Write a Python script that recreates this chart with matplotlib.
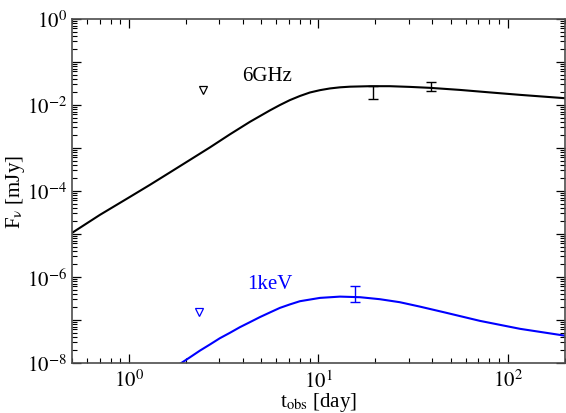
import numpy as np
import matplotlib
matplotlib.use("Agg")
import matplotlib.pyplot as plt
from matplotlib.ticker import LogLocator, FuncFormatter, NullFormatter

# model light curves
t_radio = [0.500, 0.703, 1.012, 1.29, 1.646, 2.10, 2.68, 3.41, 4.35, 5.55, 6.26,
           7.07, 7.99, 9.02, 10.2, 11.5, 13.0, 14.7, 18.7, 23.8, 30.4, 38.8,
           55.8, 80.4, 116, 200]
f_radio = [1.05e-5, 2.77e-5, 7.24e-5, 1.38e-4, 2.69e-4, 5.26e-4, 1.03e-3, 2.06e-3,
           4.03e-3, 7.45e-3, 9.9e-3, 1.29e-2, 1.61e-2, 1.94e-2, 2.20e-2, 2.41e-2,
           2.56e-2, 2.65e-2, 2.72e-2, 2.72e-2, 2.62e-2, 2.49e-2, 2.23e-2, 1.95e-2,
           1.71e-2, 1.43e-2]

t_xray = [1.86, 2.10, 2.37, 2.68, 3.02, 3.41, 3.85, 4.35, 4.91, 5.55, 6.26, 7.07,
          7.99, 10.2, 13.0, 16.6, 21.1, 26.9, 34.3, 46.5, 71.2, 116, 200]
f_xray = [9.5e-9, 1.35e-8, 1.93e-8, 2.69e-8, 3.75e-8, 5.0e-8, 6.76e-8, 8.85e-8,
          1.16e-7, 1.49e-7, 1.90e-7, 2.29e-7, 2.72e-7, 3.25e-7, 3.48e-7, 3.37e-7,
          3.03e-7, 2.58e-7, 2.04e-7, 1.49e-7, 9.5e-8, 6.2e-8, 4.3e-8]

# detections (center, lower, upper)
t_radio_det = [19.5, 39.3]
f_radio_det = [0.0194, 0.0266]
f_radio_lo = [0.0138, 0.0209]
f_radio_hi = [0.0272, 0.0339]

t_xray_det = [15.6]
f_xray_det = [4.0e-7]
f_xray_lo = [2.58e-7]
f_xray_hi = [6.3e-7]

# upper limits
t_radio_ul = [2.47]
f_radio_ul = [0.0224]
t_xray_ul = [2.35]
f_xray_ul = [1.5e-7]

plt.rcParams["font.family"] = ["Liberation Serif", "DejaVu Serif"]
plt.rcParams["mathtext.fontset"] = "stix"

fig = plt.figure(figsize=(5.66, 4.14), dpi=100)
ax = fig.add_axes([0.127, 0.121, 0.871, 0.831])

ax.plot(t_radio, f_radio, color="black", lw=1.5)
ax.plot(t_xray, f_xray, color="blue", lw=1.5)

def err(c, lo, hi):
    c = np.array(c)
    return [c - np.array(lo), np.array(hi) - c]

ax.errorbar(t_radio_det, f_radio_det, yerr=err(f_radio_det, f_radio_lo, f_radio_hi),
            fmt="none", ecolor="black", elinewidth=1.0, capsize=3.6, capthick=1.0)
ax.errorbar(t_xray_det, f_xray_det, yerr=err(f_xray_det, f_xray_lo, f_xray_hi),
            fmt="none", ecolor="blue", elinewidth=1.0, capsize=3.6, capthick=1.0)

ax.plot(t_radio_ul, f_radio_ul, "v", mfc="none", mec="black", ms=6, mew=0.9)
ax.plot(t_xray_ul, f_xray_ul, "v", mfc="none", mec="blue", ms=6, mew=0.9)

ax.text(3.95, 0.047, "6GHz", fontsize=15, color="black", ha="left", va="center")
ax.text(4.2, 7.2e-7, "1keV", fontsize=15, color="blue", ha="left", va="center")

ax.set_xscale("log")
ax.set_yscale("log")
ax.set_xlim(0.5, 200)
ax.set_ylim(1e-8, 1)

ax.yaxis.set_major_locator(LogLocator(base=10, numticks=20))
ax.yaxis.set_minor_locator(LogLocator(base=10, subs=np.arange(2, 10), numticks=20))

def ylab(v, pos):
    e = int(round(np.log10(v)))
    return r"$10^{%d}$" % e if e % 2 == 0 else ""

ax.yaxis.set_major_formatter(FuncFormatter(ylab))
ax.yaxis.set_minor_formatter(NullFormatter())
ax.xaxis.set_major_formatter(FuncFormatter(lambda v, p: r"$10^{%d}$" % int(round(np.log10(v)))))

ax.tick_params(which="both", direction="in", top=True, right=True, labelsize=15)
ax.tick_params(which="major", length=6.5, width=0.9)
ax.tick_params(which="minor", length=3.6, width=0.8)
ax.tick_params(axis="x", which="major", pad=5)

for s in ax.spines.values():
    s.set_color("0.3")
    s.set_linewidth(1.2)

ax.set_xlabel(r"t$_{\rm obs}$ [day]", fontsize=15, labelpad=-1)
ax.set_ylabel(r"F$_{\mathrm{ν}}$ [mJy]", fontsize=15, labelpad=0)

fig.savefig("out.png", dpi=100)
